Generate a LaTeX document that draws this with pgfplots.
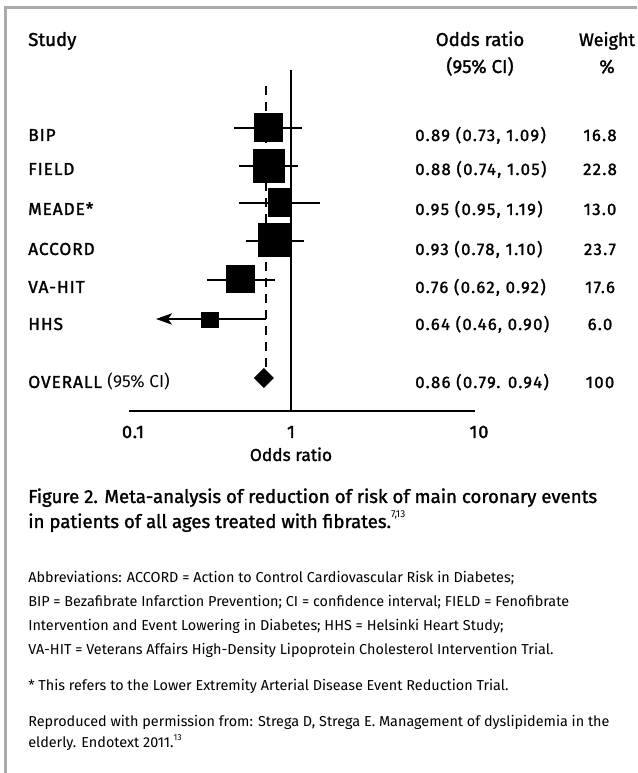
\documentclass[border=0pt]{standalone}
\usepackage{fontspec}
\setmainfont{Fira Sans}
\newfontfamily\medfont{Fira Sans}[FakeBold=1.5]
\newfontfamily\medwide{Fira Sans}[FakeBold=1.5, LetterSpace=5]
\newfontfamily\numwide{Fira Sans}[FakeBold=1.5, LetterSpace=8]
\newfontfamily\tickfont{Fira Sans}[FakeBold=2, LetterSpace=5]
\usepackage{pgfplots}
\pgfplotsset{compat=1.18}
\usetikzlibrary{arrows.meta}

\newcommand{\hdr}{\medfont\fontsize{14}{16}\selectfont}
\newcommand{\rowf}{\medwide\fontsize{13}{15}\selectfont}
\newcommand{\numf}{\numwide\fontsize{12.5}{14}\selectfont}
\newcommand{\capf}{\medfont\fontsize{14}{16}\selectfont}
\newcommand{\smallf}{\fontsize{10.8}{13}\selectfont}
\newcommand{\tickf}{\tickfont\fontsize{13.5}{16}\selectfont}

\begin{document}
\begin{tikzpicture}
\begin{scope}[x=0.75pt,y=0.75pt]
\path[use as bounding box] (0,0) rectangle (637,773);
\draw[black!33, line width=2.25pt] (5.5,0) -- (5.5,{773-7.5}) -- (637,{773-7.5});

% headers
\node[anchor=base west, inner sep=0pt, font=\hdr] at (28,{773-46}) {Study};
\node[anchor=base, inner sep=0pt, font=\hdr] at (480,{773-46}) {Odds ratio};
\node[anchor=base, inner sep=0pt, font=\hdr] at (480,{773-73}) {(95\% CI)};
\node[anchor=base, inner sep=0pt, font=\medfont\fontsize{13.5}{16}\selectfont] at (607,{773-46}) {Weight};
\node[anchor=base, inner sep=0pt, font=\hdr] at (607,{773-73}) {\%};

% row labels, estimates, weights
\foreach \lab/\est/\w/\yb in {BIP/0.89 (0.73{,} 1.09)/16.8/141, FIELD/0.88 (0.74{,} 1.05)/22.8/175, MEADE*/0.95 (0.95{,} 1.19)/13.0/215, ACCORD/0.93 (0.78{,} 1.10)/23.7/255, VA-HIT/0.76 (0.62{,} 0.92)/17.6/293, HHS/0.64 (0.46{,} 0.90)/6.0/330}{
  \node[anchor=base west, inner sep=0pt, font=\rowf] at (28,{773-\yb}) {\lab};
  \node[anchor=base west, inner sep=0pt, font=\numf] at (415,{773-\yb}) {\est};
  \node[anchor=base, inner sep=0pt, font=\numf] at (600,{773-\yb}) {\w};
}
\node[anchor=base west, inner sep=0pt, font=\rowf] at (28,{773-388}) {OVERALL {\normalfont (95\% CI)}};
\node[anchor=base west, inner sep=0pt, font=\numf] at (415,{773-388}) {0.86 (0.79. 0.94)};
\node[anchor=base, inner sep=0pt, font=\numf] at (600,{773-388}) {100};

% x tick labels and x label
\node[anchor=base, inner sep=0pt, font=\tickf] at (133,{773-438}) {0.1};
\node[anchor=base, inner sep=0pt, font=\tickf] at (291,{773-438}) {1};
\node[anchor=base, inner sep=0pt, font=\tickf] at (479,{773-438}) {10};
\node[anchor=base, inner sep=0pt, font=\medfont\fontsize{13}{15}\selectfont] at (291,{773-461}) {Odds ratio};

% caption
\node[anchor=base west, inner sep=0pt, font=\capf] at (28,{773-503}) {Figure 2. Meta-analysis of reduction of risk of main coronary events};
\node[anchor=base west, inner sep=0pt, font=\capf] at (28,{773-528}) {in patients of all ages treated with fibrates.\raisebox{0.55em}{\normalfont\fontsize{7.5}{9}\selectfont 7,13}};

\node[anchor=base west, inner sep=0pt, font=\smallf] at (28,{773-583}) {Abbreviations: ACCORD = Action to Control Cardiovascular Risk in Diabetes;};
\node[anchor=base west, inner sep=0pt, font=\smallf] at (28,{773-607}) {BIP = Bezafibrate Infarction Prevention; CI = confidence interval; FIELD = Fenofibrate};
\node[anchor=base west, inner sep=0pt, font=\smallf] at (28,{773-631}) {Intervention and Event Lowering in Diabetes; HHS = Helsinki Heart Study;};
\node[anchor=base west, inner sep=0pt, font=\smallf] at (28,{773-655}) {VA-HIT = Veterans Affairs High-Density Lipoprotein Cholesterol Intervention Trial.};
\node[anchor=base west, inner sep=0pt, font=\smallf] at (28,{773-691}) {* This refers to the Lower Extremity Arterial Disease Event Reduction Trial.};
\node[anchor=base west, inner sep=0pt, font=\smallf] at (28,{773-727}) {Reproduced with permission from: Strega D, Strega E. Management of dyslipidemia in the};
\node[anchor=base west, inner sep=0pt, font=\smallf] at (28,{773-748}) {elderly. Endotext 2011.\raisebox{0.5em}{\fontsize{6.5}{8}\selectfont 13}};
\end{scope}

\begin{axis}[
  at={(96.75pt,271.5pt)}, anchor=south west,
  scale only axis, width=259.5pt, height=255.75pt,
  xmode=log, xmin=0.1158, xmax=11.58, ymin=0, ymax=341,
  axis y line=none, axis x line=bottom,
  x axis line style={-, line width=1.5pt},
  xtick=\empty,
  clip=false,
]
% dashed line of the pooled estimate
\addplot[line width=1.5pt, dash pattern=on 6.75pt off 5.25pt] coordinates {(0.714,325) (0.714,43)};
% line of no effect
\addplot[line width=1.5pt] coordinates {(1,0) (1,341)};
% confidence intervals
\addplot[line width=1pt] coordinates {(0.468,283) (1.158,283)};
\addplot[line width=1pt] coordinates {(0.501,245) (1.098,245)};
\addplot[line width=1pt] coordinates {(0.501,208) (1.471,208)};
\addplot[line width=1pt] coordinates {(0.549,170) (1.189,170)};
\addplot[line width=1pt] coordinates {(0.327,131) (0.808,131)};
\addplot[line width=1pt, -{Stealth[length=12pt,width=8.5pt,inset=3pt]}] coordinates {(0.717,92) (0.166,92)};
% boxes (weights)
\addplot[fill=black, draw=none] coordinates {(0.611,269) (0.899,269) (0.899,298) (0.611,298)};
\addplot[fill=black, draw=none] coordinates {(0.603,228) (0.923,228) (0.923,262) (0.603,262)};
\addplot[fill=black, draw=none] coordinates {(0.736,194) (1.0,194) (1.0,223) (0.736,223)};
\addplot[fill=black, draw=none] coordinates {(0.645,154) (1.0,154) (1.0,188) (0.645,188)};
\addplot[fill=black, draw=none] coordinates {(0.421,118) (0.619,118) (0.619,146) (0.421,146)};
\addplot[fill=black, draw=none] coordinates {(0.302,83) (0.384,83) (0.384,99) (0.302,99)};
% pooled diamond
\addplot[fill=black, draw=none] coordinates {(0.611,33) (0.698,43) (0.797,33) (0.698,23)};
\end{axis}
\end{tikzpicture}
\end{document}
